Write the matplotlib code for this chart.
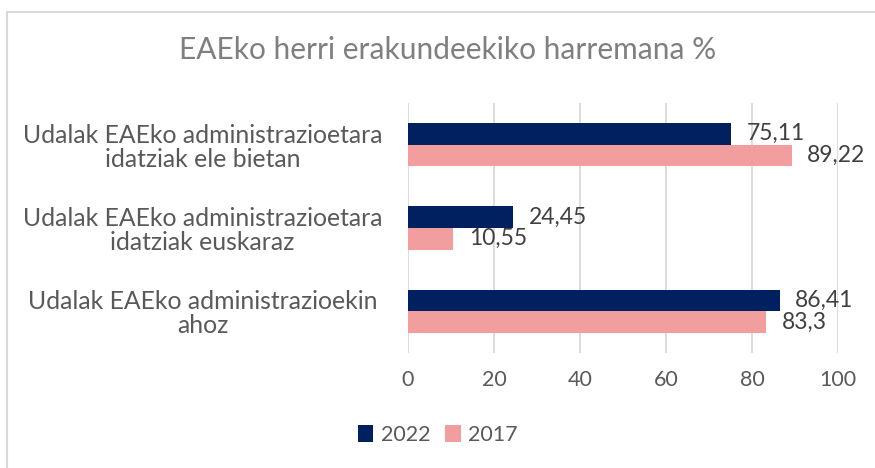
import matplotlib.pyplot as plt
from matplotlib.patches import Rectangle
import numpy as np

plt.rcParams['font.family'] = ['Lato', 'DejaVu Sans']

# datuak
categories = ["Udalak EAEko administrazioetara\nidatziak ele bietan",
              "Udalak EAEko administrazioetara\nidatziak euskaraz",
              "Udalak EAEko administrazioekin\nahoz"]
vals_2022 = [75.11, 24.45, 86.41]
vals_2017 = [89.22, 10.55, 83.3]
series = ["2022", "2017"]
xticks = [0, 20, 40, 60, 80, 100]

c2022 = '#002060'
c2017 = '#F29E9E'
grey = '#595959'

fig = plt.figure(figsize=(8.75, 4.68), dpi=100)
# marko grisa
fig.patches.append(Rectangle((7 / 875, -0.1), 1.2, 1 - 12 / 468 + 0.1,
                             transform=fig.transFigure, fill=False,
                             edgecolor='#d9d9d9', linewidth=1.5))

ax = fig.add_axes([408 / 875, 1 - 353 / 468, 430 / 875, 250 / 468])

y = np.arange(len(categories))
h = 0.26
b1 = ax.barh(y - h / 2, vals_2022, height=h, color=c2022, label=series[0], zorder=3)
b2 = ax.barh(y + h / 2, vals_2017, height=h, color=c2017, label=series[1], zorder=3)

fmt = lambda v: ('%g' % v).replace('.', ',')
ax.bar_label(b1, labels=[fmt(v) for v in vals_2022], padding=11,
             fontsize=16.5, color='#404040')
ax.bar_label(b2, labels=[fmt(v) for v in vals_2017], padding=11,
             fontsize=16.5, color='#404040')

ax.set_xlim(0, 100)
ax.set_ylim(2.5, -0.5)
ax.set_xticks(xticks)
ax.set_xticklabels([str(t) for t in xticks], fontsize=15.5, color=grey)
ax.set_yticks(y)
ax.set_yticklabels(categories, fontsize=17.8, color=grey)
for lab in ax.get_yticklabels():
    lab.set_horizontalalignment('center')
    lab.set_multialignment('center')
    lab.set_linespacing(1.05)
ax.tick_params(axis='y', length=0, pad=148)
ax.tick_params(axis='x', length=0, pad=12)
ax.grid(axis='x', color='#d9d9d9', linewidth=1.3, zorder=0)
for s in ax.spines.values():
    s.set_visible(False)

fig.text(448 / 875, 1 - 50 / 468, "EAEko herri erakundeekiko harremana %",
         ha='center', va='center', fontsize=21.5, color='#7f7f7f')

fig.legend(loc='center', bbox_to_anchor=(438 / 875, 1 - 435 / 468), ncol=2,
           frameon=False, fontsize=15.5, labelcolor=grey, handlelength=0.7,
           handleheight=0.8, handletextpad=0.35, columnspacing=0.7)

fig.savefig('out.png', dpi=100)
